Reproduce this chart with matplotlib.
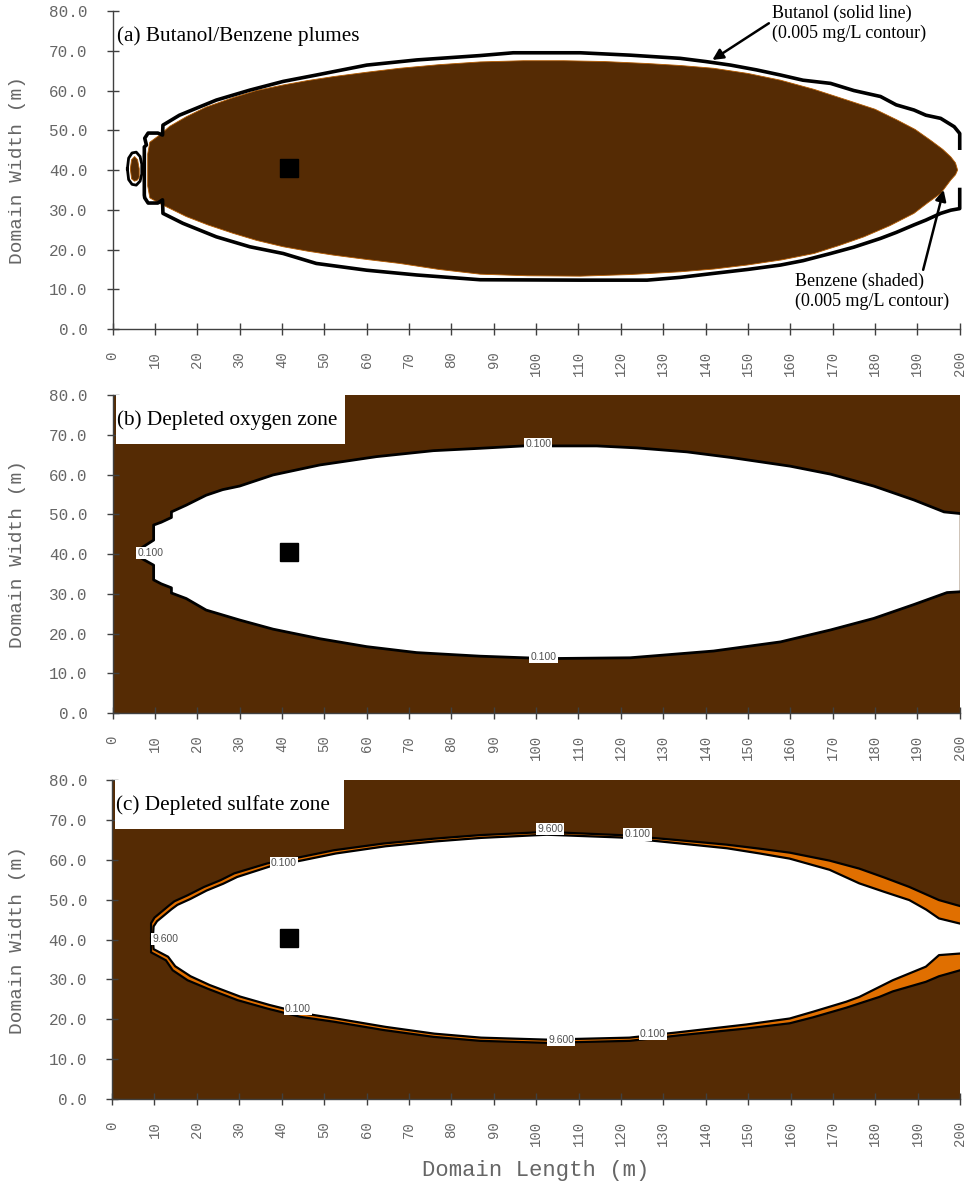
import numpy as np
import matplotlib.pyplot as plt
from matplotlib.patches import Polygon, Rectangle

BROWN = '#552b04'
ORANGE = '#e06f00'
AXIS_GRAY = '#404040'
TEXT_GRAY = '#666666'

x_ticks = np.arange(0, 201, 10)
y_ticks = np.arange(0, 81, 10)
source_x, source_y = 41.7, 40.4

# (a) benzene plume (shaded), upper edge left->right, lower edge right->left
benzene_upper_x = [8.3, 8.8, 11.1, 13.5, 17.4, 22.0, 28.4, 34.0, 40.3, 46.0, 52.1, 60.0,
                   67.8, 77.0, 86.8, 97.0, 106.5, 116.0, 126.2, 134.0, 141.9, 150.0,
                   157.7, 165.6, 173.4, 180.0, 185.2, 189.5, 193.1, 196.0, 197.9, 199.0, 199.5]
benzene_upper_y = [44.0, 47.0, 48.8, 51.0, 53.4, 55.8, 58.2, 60.0, 61.4, 62.5, 63.5, 64.6,
                   65.6, 66.5, 67.2, 67.5, 67.5, 67.3, 66.8, 66.3, 65.6, 64.3,
                   62.6, 60.3, 57.6, 55.3, 52.6, 50.2, 47.5, 45.2, 43.3, 41.8, 40.0]
benzene_lower_x = [199.0, 197.9, 195.5, 192.5, 189.2, 183.5, 177.4, 171.5, 165.6, 158.0,
                   149.8, 142.0, 134.0, 122.0, 110.4, 98.0, 86.8, 77.0, 67.8, 60.0,
                   52.1, 46.0, 40.3, 34.0, 28.4, 22.5, 17.4, 11.1, 8.8, 8.3]
benzene_lower_y = [38.8, 37.5, 34.1, 31.8, 29.1, 26.0, 23.2, 21.0, 19.0, 17.4,
                   16.1, 15.1, 14.4, 13.7, 13.3, 13.4, 13.8, 15.0, 16.5, 17.5,
                   18.6, 19.6, 20.7, 22.3, 24.1, 26.2, 28.3, 31.6, 33.0, 36.0]
benzene_blob_x = [4.2, 4.5, 5.2, 5.9, 6.3, 6.3, 5.9, 5.2, 4.5, 4.2]
benzene_blob_y = [40.3, 42.6, 43.4, 42.6, 40.3, 38.2, 37.5, 37.2, 37.8, 40.3]

# (a) butanol 0.005 mg/L contour
butanol_x = [200.0, 200.0, 198.7, 195.5, 192.0, 189.2, 185.0, 181.3, 175.0, 169.5, 163.0,
             157.7, 152.0, 145.9, 140.0, 134.0, 122.2, 110.4, 94.6, 86.8, 71.8, 60.0,
             48.1, 40.3, 32.4, 24.5, 20.6, 15.8, 11.9,
             11.8, 10.7, 8.4, 7.6, 8.0, 7.5, 7.5, 7.6, 8.4, 10.7, 11.8, 11.9,
             16.6, 24.5, 32.4, 40.3, 48.1, 60.0, 71.8, 86.8, 110.4, 126.2, 134.0, 141.9,
             150.0, 157.7, 163.0, 169.5, 175.0, 181.3, 185.0, 189.2, 192.0, 195.5, 197.9,
             200.0, 200.0]
butanol_y = [45.5, 49.2, 50.9, 53.0, 53.8, 55.1, 56.4, 58.5, 60.0, 61.8, 62.6,
             63.9, 65.2, 66.4, 67.3, 68.1, 68.9, 69.5, 69.5, 68.8, 67.7, 66.4,
             63.9, 62.3, 60.1, 57.6, 55.9, 53.8, 51.3,
             48.8, 49.3, 49.3, 48.0, 46.3, 45.8, 33.7, 33.0, 31.7, 31.7, 32.5, 29.1,
             26.6, 23.2, 20.7, 19.0, 16.5, 14.8, 13.6, 12.4, 12.3, 12.3, 13.0, 14.0,
             15.0, 16.1, 17.2, 19.0, 20.6, 22.8, 24.3, 26.2, 27.4, 29.1, 29.9,
             30.3, 35.1]
butanol_blob_x = [3.5, 3.8, 4.6, 5.6, 6.5, 6.9, 6.9, 6.5, 5.6, 4.6, 3.8, 3.5]
butanol_blob_y = [40.3, 43.0, 44.3, 44.5, 43.4, 41.5, 39.0, 37.2, 36.2, 36.4, 37.6, 40.3]

# (b) oxygen 0.100 contour around the depleted zone
oxy_upper_x = [5.9, 7.5, 9.7, 9.7, 11.5, 13.9, 13.9, 17.4, 22.1, 26.0, 30.0, 37.9, 48.9,
               62.3, 75.7, 86.8, 97.0, 114.3, 123.8, 135.6, 145.9, 160.0, 169.5, 179.7,
               189.2, 196.3, 200.0]
oxy_upper_y = [40.8, 42.0, 43.5, 47.3, 48.0, 49.2, 50.6, 52.3, 54.8, 56.2, 57.1, 59.9, 62.4,
               64.5, 66.0, 66.6, 67.2, 67.2, 66.7, 65.7, 64.3, 62.1, 60.1, 57.1,
               53.6, 50.6, 50.2]
oxy_lower_x = [5.9, 7.5, 9.7, 9.7, 11.5, 13.9, 13.9, 17.4, 22.1, 30.0, 37.9, 48.9, 60.0,
               71.8, 86.8, 102.5, 122.2, 141.9, 157.7, 169.5, 179.7, 189.2, 197.0, 200.0]
oxy_lower_y = [39.6, 38.5, 37.2, 33.5, 32.5, 31.5, 30.2, 28.8, 25.9, 23.4, 21.1, 18.7, 16.7,
               15.2, 14.3, 13.7, 13.9, 15.6, 17.9, 20.9, 23.8, 27.3, 30.3, 30.5]

# (c) sulfate: outer edge (0.100) and inner edge (9.600) of the transition band
sulf_outer_upper_x = [9.2, 9.2, 10.0, 13.5, 14.7, 17.8, 21.7, 25.6, 28.8, 36.6, 44.5, 52.3,
                      64.1, 75.8, 86.8, 102.5, 119.8, 133.9, 145.0, 152.7, 159.8, 169.2,
                      176.2, 182.0, 188.0, 195.0, 200.0]
sulf_outer_upper_y = [40.3, 44.1, 45.5, 48.6, 49.6, 51.1, 53.2, 54.9, 56.6, 59.1, 60.7, 62.4,
                      64.1, 65.3, 66.2, 67.0, 66.2, 64.9, 63.8, 62.8, 61.8, 59.8,
                      57.8, 55.6, 53.2, 49.9, 48.4]
sulf_inner_upper_x = [9.6, 9.8, 10.6, 14.0, 15.4, 18.5, 22.3, 26.2, 29.5, 37.1, 45.0, 52.8,
                      64.5, 76.0, 87.0, 102.5, 120.0, 134.0, 145.0, 152.7, 159.8, 169.2,
                      176.2, 182.0, 188.0, 192.0, 195.0, 200.0]
sulf_inner_upper_y = [40.3, 43.3, 44.6, 47.6, 48.7, 50.2, 52.3, 54.0, 55.7, 58.3, 59.9, 61.6,
                      63.4, 64.6, 65.5, 66.3, 65.6, 64.1, 62.9, 61.6, 60.3, 57.5,
                      54.1, 52.0, 49.9, 47.5, 45.3, 44.0]
sulf_outer_lower_x = [9.2, 9.2, 12.7, 14.3, 17.8, 22.5, 29.6, 36.6, 44.5, 52.3, 64.1, 75.8,
                      86.8, 102.5, 122.1, 133.9, 149.6, 159.8, 165.3, 173.1, 180.9, 184.1,
                      191.9, 195.0, 200.0]
sulf_outer_lower_y = [40.3, 36.8, 34.8, 32.3, 29.8, 27.7, 24.8, 22.7, 20.6, 19.4, 17.3, 15.6,
                      14.6, 14.1, 14.6, 16.0, 17.7, 19.0, 20.5, 22.9, 25.6, 27.0,
                      29.4, 30.8, 32.3]
sulf_inner_lower_x = [9.6, 9.8, 13.2, 14.9, 18.5, 23.0, 30.2, 37.1, 45.0, 52.8, 64.5, 76.0,
                      87.0, 102.5, 122.0, 134.0, 149.6, 159.8, 165.3, 173.1, 176.2, 184.1,
                      191.9, 195.0, 200.0]
sulf_inner_lower_y = [40.3, 37.6, 35.7, 33.3, 30.8, 28.6, 25.7, 23.6, 21.5, 20.2, 18.1, 16.4,
                      15.4, 14.9, 15.4, 16.8, 18.7, 20.2, 21.9, 24.4, 25.6, 29.8,
                      33.2, 36.1, 36.5]

# contour value labels: (x, y, text)
oxy_labels = [(9.0, 40.3, '0.100'), (100.5, 67.6, '0.100'), (101.7, 14.2, '0.100')]
sulf_labels = [(12.6, 40.2, '9.600'), (40.5, 59.1, '0.100'), (43.8, 22.6, '0.100'),
               (103.3, 67.7, '9.600'), (123.9, 66.4, '0.100'), (105.9, 14.8, '9.600'),
               (127.5, 16.3, '0.100')]

MONO = 'Liberation Mono'
SERIF = 'Liberation Serif'


def style_axes(ax):
    ax.set_xlim(0, 200)
    ax.set_ylim(0, 80)
    for side in ['top', 'right']:
        ax.spines[side].set_visible(False)
    for side in ['left', 'bottom']:
        ax.spines[side].set_color(AXIS_GRAY)
        ax.spines[side].set_linewidth(1.0)
    ax.set_xticks(x_ticks)
    ax.set_xticklabels([str(v) for v in x_ticks], rotation=90, family=MONO,
                       fontsize=10, color=TEXT_GRAY)
    ax.set_yticks(y_ticks)
    ax.set_yticklabels(['%.1f' % v for v in y_ticks], family=MONO,
                       fontsize=11.5, color=TEXT_GRAY)
    ax.tick_params(axis='x', direction='inout', length=8, width=1, color=AXIS_GRAY, pad=12)
    ax.tick_params(axis='y', direction='inout', length=8, width=1, color=AXIS_GRAY, pad=14)
    ax.set_ylabel('Domain Width (m)', family=MONO, fontsize=14, color=TEXT_GRAY)
    ax.yaxis.set_label_coords(-0.102, 0.5)


def panel_title(ax, text, boxed):
    if boxed:
        ax.add_patch(Rectangle((0.8, 67.8), 54.0, 12.2, fc='white', ec='none', zorder=6))
    ax.text(1.0, 73.8, text, family=SERIF, fontsize=15.3, va='center', ha='left', zorder=7)


def contour_labels(ax, labels):
    for x, y, s in labels:
        ax.text(x, y, s, family='Liberation Sans', fontsize=7.5, color='#505050',
                ha='center', va='center', zorder=8,
                bbox=dict(boxstyle='square,pad=0.12', fc='white', ec='none'))


fig = plt.figure(figsize=(9.66, 11.87), dpi=100)
ax_a = fig.add_axes([0.1165, 0.7228, 0.877, 0.2679])
ax_b = fig.add_axes([0.1165, 0.3993, 0.877, 0.2679])
ax_c = fig.add_axes([0.1160, 0.0741, 0.878, 0.2687])

# (a) Butanol/Benzene plumes
style_axes(ax_a)
benz = np.column_stack([benzene_upper_x + benzene_lower_x, benzene_upper_y + benzene_lower_y])
ax_a.add_patch(Polygon(benz, closed=True, fc=BROWN, ec='#b35a00', lw=0.6, zorder=2))
ax_a.add_patch(Polygon(np.column_stack([benzene_blob_x, benzene_blob_y]), closed=True,
                       fc=BROWN, ec='#b35a00', lw=0.6, zorder=2))
ax_a.plot(butanol_x, butanol_y, color='black', lw=2.6, zorder=3, clip_on=False)
ax_a.plot(butanol_blob_x, butanol_blob_y, color='black', lw=2.0, zorder=3)
ax_a.plot(source_x, source_y, 's', color='black', ms=13.5, zorder=5)
panel_title(ax_a, '(a) Butanol/Benzene plumes', boxed=False)
ax_a.annotate('Butanol (solid line)\n(0.005 mg/L contour)', xy=(141.6, 67.7),
              xytext=(155.6, 81.6), family=SERIF, fontsize=13, va='top', ha='left',
              annotation_clip=False,
              arrowprops=dict(arrowstyle='-|>', color='black', lw=1.8,
                              shrinkA=0, shrinkB=0, mutation_scale=16,
                              relpos=(0.0, 0.55)))
ax_a.annotate('Benzene (shaded)\n(0.005 mg/L contour)', xy=(196.2, 35.0),
              xytext=(161.0, 14.2), family=SERIF, fontsize=13, va='top', ha='left',
              annotation_clip=False,
              arrowprops=dict(arrowstyle='-|>', color='black', lw=1.8,
                              shrinkA=0, shrinkB=0, mutation_scale=16,
                              relpos=(0.83, 1.0)))

# (b) Depleted oxygen zone
style_axes(ax_b)
ax_b.set_facecolor(BROWN)
oxy_zone = np.column_stack([oxy_upper_x + oxy_lower_x[::-1], oxy_upper_y + oxy_lower_y[::-1]])
ax_b.add_patch(Polygon(oxy_zone, closed=True, fc='white', ec='none', zorder=2))
ax_b.plot(oxy_upper_x, oxy_upper_y, color='black', lw=2.0, zorder=3)
ax_b.plot(oxy_lower_x, oxy_lower_y, color='black', lw=2.0, zorder=3)
ax_b.plot(source_x, source_y, 's', color='black', ms=13.5, zorder=5)
contour_labels(ax_b, oxy_labels)
panel_title(ax_b, '(b) Depleted oxygen zone', boxed=True)

# (c) Depleted sulfate zone
style_axes(ax_c)
ax_c.set_facecolor(BROWN)
outer = np.column_stack([sulf_outer_upper_x + sulf_outer_lower_x[::-1],
                         sulf_outer_upper_y + sulf_outer_lower_y[::-1]])
inner = np.column_stack([sulf_inner_upper_x + sulf_inner_lower_x[::-1],
                         sulf_inner_upper_y + sulf_inner_lower_y[::-1]])
ax_c.add_patch(Polygon(outer, closed=True, fc=ORANGE, ec='none', zorder=2))
ax_c.add_patch(Polygon(inner, closed=True, fc='white', ec='none', zorder=2))
for xs, ys in [(sulf_outer_upper_x, sulf_outer_upper_y), (sulf_outer_lower_x, sulf_outer_lower_y),
               (sulf_inner_upper_x, sulf_inner_upper_y), (sulf_inner_lower_x, sulf_inner_lower_y)]:
    ax_c.plot(xs, ys, color='black', lw=1.6, zorder=3)
ax_c.plot(source_x, source_y, 's', color='black', ms=13.5, zorder=5)
contour_labels(ax_c, sulf_labels)
panel_title(ax_c, '(c) Depleted sulfate zone', boxed=True)
ax_c.set_xlabel('Domain Length (m)', family=MONO, fontsize=16, color=TEXT_GRAY)
ax_c.xaxis.set_label_coords(0.5, -0.19)

fig.savefig('out.png', dpi=100)
